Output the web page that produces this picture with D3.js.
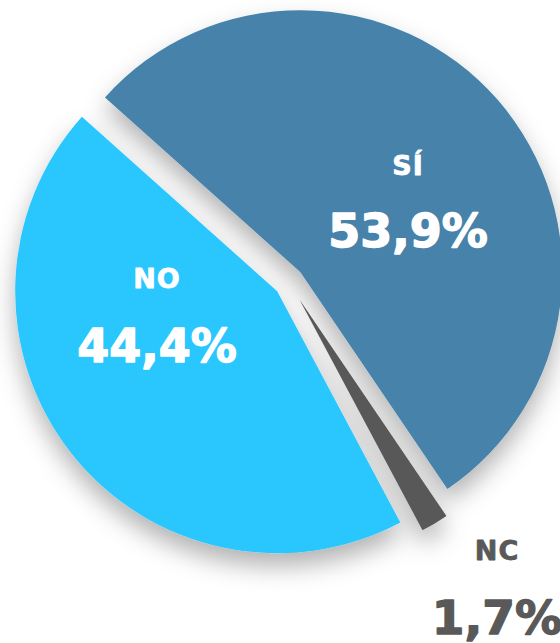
<!DOCTYPE html>
<html>
<head>
<meta charset="utf-8">
<script src="https://cdn.jsdelivr.net/npm/d3@7"></script>
<style>
  html, body { margin: 0; padding: 0; background: #fff; overflow: hidden; }
  svg { display: block; }
  .lbl { font-family: "DejaVu Sans", sans-serif; font-weight: bold; text-anchor: middle; stroke-linejoin: round; }
</style>
</head>
<body>
<div id="chart"></div>
<script>
// data
var categories = ["SÍ", "NC", "NO"];
var values = [53.9, 1.7, 44.4];
var colors = ["#4682ab", "#595959", "#2cc6fe"];

var svgWidth = 560;
var svgHeight = 643;

// pie layout (centre, radius, how far each slice is pulled out)
var cx = 289, cy = 282, radius = 262;
var explode = { "SÍ": 15, "NC": 20, "NO": 15 };

// where the name / percentage of each slice sit
var labelPos = {
  "SÍ": { x: 408, yName: 175, yVal: 247, size: 46, fill: "#fff" },
  "NO": { x: 157, yName: 288, yVal: 362, size: 46, fill: "#fff" },
  "NC": { x: 497, yName: 560, yVal: 634, size: 47, fill: "#595959" }
};

// spanish decimal comma
var es = d3.formatLocale({ decimal: ",", thousands: ".", grouping: [3], currency: ["", "€"] });
var fmt = es.format(".1f");

var svg = d3.select("#chart")
  .append("svg")
  .attr("width", svgWidth)
  .attr("height", svgHeight);

// soft drop shadow under the slices
var filter = svg.append("defs").append("filter")
  .attr("id", "shadow")
  .attr("x", "-20%").attr("y", "-20%")
  .attr("width", "140%").attr("height", "140%");
filter.append("feDropShadow")
  .attr("dx", 0)
  .attr("dy", 13)
  .attr("stdDeviation", 12)
  .attr("flood-color", "#000")
  .attr("flood-opacity", 0.3);

var data = categories.map(function(c, i) {
  return { name: c, value: values[i], color: colors[i] };
});

var startA = -48.2 * Math.PI / 180;
var pie = d3.pie()
  .sort(null)
  .value(function(d) { return d.value; })
  .startAngle(startA)
  .endAngle(startA + 2 * Math.PI);

var arc = d3.arc()
  .innerRadius(0)
  .outerRadius(radius);

var arcs = pie(data);

var pieGroup = svg.append("g")
  .attr("transform", "translate(" + cx + "," + cy + ")")
  .attr("filter", "url(#shadow)");

pieGroup.selectAll("path")
  .data(arcs)
  .enter()
  .append("path")
  .attr("d", arc)
  .attr("fill", function(d) { return d.data.color; })
  .attr("transform", function(d) {
    var mid = (d.startAngle + d.endAngle) / 2;
    var e = explode[d.data.name];
    return "translate(" + (Math.sin(mid) * e) + "," + (-Math.cos(mid) * e) + ")";
  });

// labels (a thin stroke makes them as heavy as the original)
var labels = svg.append("g");
arcs.forEach(function(d) {
  var p = labelPos[d.data.name];
  labels.append("text")
    .attr("class", "lbl")
    .attr("x", p.x)
    .attr("y", p.yName)
    .attr("font-size", 27)
    .attr("letter-spacing", 1)
    .attr("fill", p.fill)
    .attr("stroke", p.fill)
    .attr("stroke-width", 0.8)
    .text(d.data.name);
  labels.append("text")
    .attr("class", "lbl")
    .attr("x", p.x)
    .attr("y", p.yVal)
    .attr("font-size", p.size)
    .attr("fill", p.fill)
    .attr("stroke", p.fill)
    .attr("stroke-width", 1.4)
    .text(fmt(d.data.value) + "%");
});
</script>
</body>
</html>
